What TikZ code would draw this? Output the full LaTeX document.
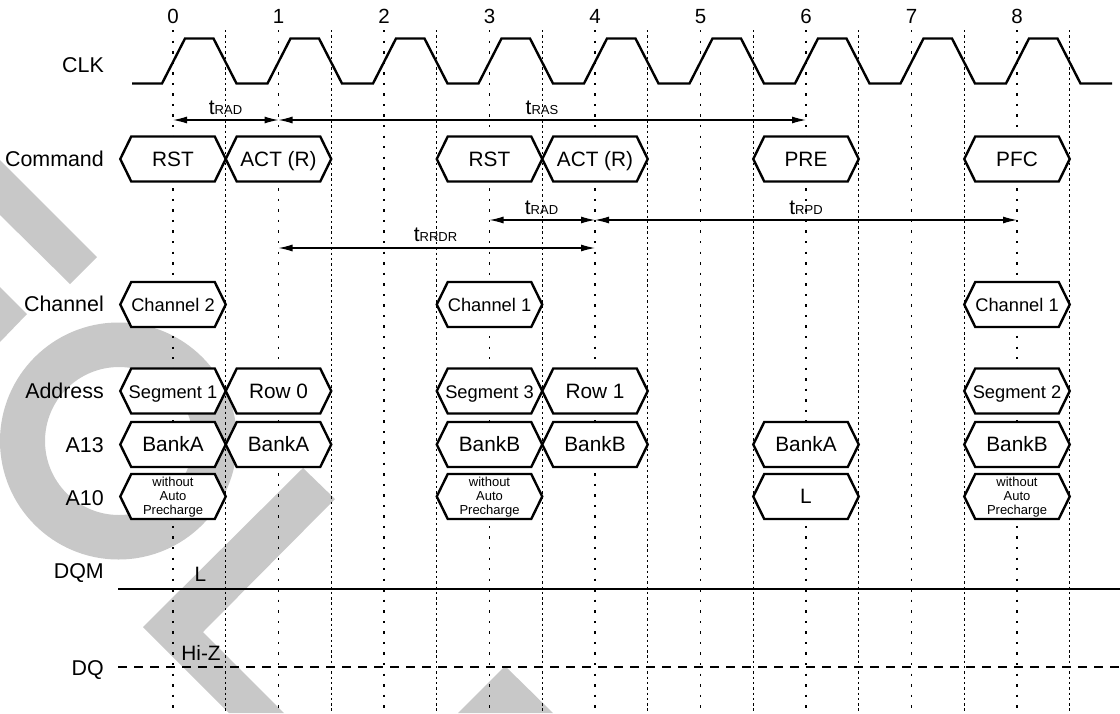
\documentclass[tikz,border=0pt]{standalone}
\usepackage{fontspec}
\setmainfont{Liberation Sans}
\usetikzlibrary{arrows.meta}
\definecolor{wm}{HTML}{C8C8C8}
\tikzset{
  x=1pt,y=-1pt,
  wmark/.style={fill=wm,draw=none},
  gridint/.style={black,line width=1.1pt,dash pattern=on 2.4pt off 8.15pt},
  gridhalf/.style={black,line width=1.1pt,dash pattern=on 2.4pt off 2.9pt},
  wave/.style={black,line width=2.4pt,line join=miter},
  hexline/.style={black,fill=white,line width=2.4pt,line join=miter},
  dim/.style={black,line width=1.1pt,{Latex[length=14pt,width=7pt]}-{Latex[length=14pt,width=7pt]}},
  sig/.style={anchor=base east,inner sep=0pt,font=\fontsize{21.4}{22}\selectfont},
  tick/.style={anchor=base,inner sep=0pt,font=\fontsize{20.5}{21}\selectfont},
  htxt/.style={anchor=base,inner sep=0pt,font=\fontsize{20.8}{21}\selectfont},
  hmid/.style={anchor=base,inner sep=0pt,font=\fontsize{18.3}{19}\selectfont},
  hsmall/.style={anchor=center,inner sep=0pt,align=center,font=\fontsize{13}{13.9}\selectfont},
  lev/.style={anchor=base,inner sep=0pt,font=\fontsize{20.8}{21}\selectfont},
  tlab/.style={anchor=base,inner sep=0pt,font=\fontsize{21}{21}\selectfont},
}
\newcommand\Tm[1]{t{\fontsize{13}{13}\selectfont #1}}
\newcommand\hexoff{7}
\newcommand\hexa[5]{% name, cycle, mid y, style, text
  \pgfmathsetmacro\cx{173+105.5*#2}
  \draw[hexline] (\cx-52.75,#3) -- (\cx-41.75,#3-22.5) -- (\cx+41.75,#3-22.5) -- (\cx+52.75,#3) -- (\cx+41.75,#3+22.5) -- (\cx-41.75,#3+22.5) -- cycle;
  \node[#4] (#1) at (\cx,#3+\hexoff) {#5};
}
\begin{document}
\begin{tikzpicture}
\useasboundingbox (0,0) rectangle (1120,713);
\fill[white] (0,0) rectangle (1120,713);
% watermark
\fill[wmark] (0,160) -- (97,257) -- (70,284) -- (0,215) -- cycle;
\fill[wmark] (0,287) -- (27,314) -- (0,342) -- cycle;
\fill[wmark,even odd rule] (118.5,441) circle[radius=118.5] (119,441) circle[radius=74];
\fill[wmark] (303,468) -- (335,499) -- (203,632) -- (284,713) -- (229,713) -- (143,627) -- cycle;
\fill[wmark] (505,666) -- (553,713) -- (458,713) -- cycle;
% grid
\foreach \k in {0,...,8}{
  \pgfmathsetmacro\gx{173+105.5*\k}
  \coordinate (g\k) at (\gx,30);
  \coordinate (m\k) at (\gx,120);
  \coordinate (n\k) at (\gx,220);
  \coordinate (r\k) at (\gx,248);
  \coordinate (b\k) at (\gx,713);
  \draw[gridint] (g\k) -- (b\k);
  \pgfmathsetmacro\hx{\gx+52.75}
  \coordinate (hg\k) at (\hx,30);
  \coordinate (hb\k) at (\hx,713);
  \draw[gridhalf] (hg\k) -- (hb\k);
  \node[tick] (num\k) at (\gx,23) {\k};
}
% clock
\draw[wave] (132,83.5)
  \foreach \k in {0,...,8}{
    -- ({162+105.5*\k},83.5) -- ({185+105.5*\k},38.5) -- ({213.5+105.5*\k},38.5) -- ({236.5+105.5*\k},83.5)
  } -- (1112,83.5);
% labels
\node[sig] (lclk) at (104,72) {CLK};
\node[sig] (lcmd) at (104,166) {Command};
\node[sig] (lch) at (104,311) {Channel};
\node[sig] (ladr) at (104,398) {Address};
\node[sig] (la13) at (104,452) {A13};
\node[sig] (la10) at (104,505) {A10};
\node[sig] (ldqm) at (104,578) {DQM};
\node[sig] (ldq) at (104,675) {DQ};
% command
\hexa{c0}{0}{159}{htxt}{RST}
\hexa{c1}{1}{159}{htxt}{ACT (R)}
\hexa{c3}{3}{159}{htxt}{RST}
\hexa{c4}{4}{159}{htxt}{ACT (R)}
\hexa{c6}{6}{159}{htxt}{PRE}
\hexa{c8}{8}{159}{htxt}{PFC}
% channel
\hexa{h0}{0}{304.5}{hmid}{Channel 2}
\hexa{h3}{3}{304.5}{hmid}{Channel 1}
\hexa{h8}{8}{304.5}{hmid}{Channel 1}
% address
\hexa{a0}{0}{391}{hmid}{Segment 1}
\hexa{a1}{1}{391}{htxt}{Row 0}
\hexa{a3}{3}{391}{hmid}{Segment 3}
\hexa{a4}{4}{391}{htxt}{Row 1}
\hexa{a8}{8}{391}{hmid}{Segment 2}
% A13
\hexa{d0}{0}{444.5}{htxt}{BankA}
\hexa{d1}{1}{444.5}{htxt}{BankA}
\hexa{d3}{3}{444.5}{htxt}{BankB}
\hexa{d4}{4}{444.5}{htxt}{BankB}
\hexa{d6}{6}{444.5}{htxt}{BankA}
\hexa{d8}{8}{444.5}{htxt}{BankB}
% A10
\renewcommand\hexoff{0.5}
\hexa{e0}{0}{496.5}{hsmall}{without\\Auto\\Precharge}
\hexa{e3}{3}{496.5}{hsmall}{without\\Auto\\Precharge}
\hexa{e8}{8}{496.5}{hsmall}{without\\Auto\\Precharge}
\renewcommand\hexoff{7}
\hexa{e6}{6}{496.5}{htxt}{L}
% timing arrows
\draw[dim] (m0) -- (m1);
\draw[dim] (m1) -- (m6);
\draw[dim] (n3) -- (n4);
\draw[dim] (n4) -- (n8);
\draw[dim] (r1) -- (r4);
\node[tlab] (t1) at (225.5,114.5) {\Tm{RAD}};
\node[tlab] (t2) at (542,114.5) {\Tm{RAS}};
\node[tlab] (t3) at (541.5,214) {\Tm{RAD}};
\node[tlab] (t4) at (806,214) {\Tm{RPD}};
\node[tlab] (t5) at (435.5,241) {\Tm{RRDR}};
% DQM, DQ
\coordinate (q1) at (118,588.7);
\coordinate (q2) at (1120,588.7);
\coordinate (q3) at (118,667);
\coordinate (q4) at (1120,667);
\draw[black,line width=2.4pt] (q1) -- (q2);
\draw[black,line width=2.4pt,dash pattern=on 9pt off 7pt] (q3) -- (q4);
\node[lev] (vl) at (200.5,581) {L};
\node[lev] (vz) at (201,660) {Hi-Z};
\end{tikzpicture}
\end{document}
